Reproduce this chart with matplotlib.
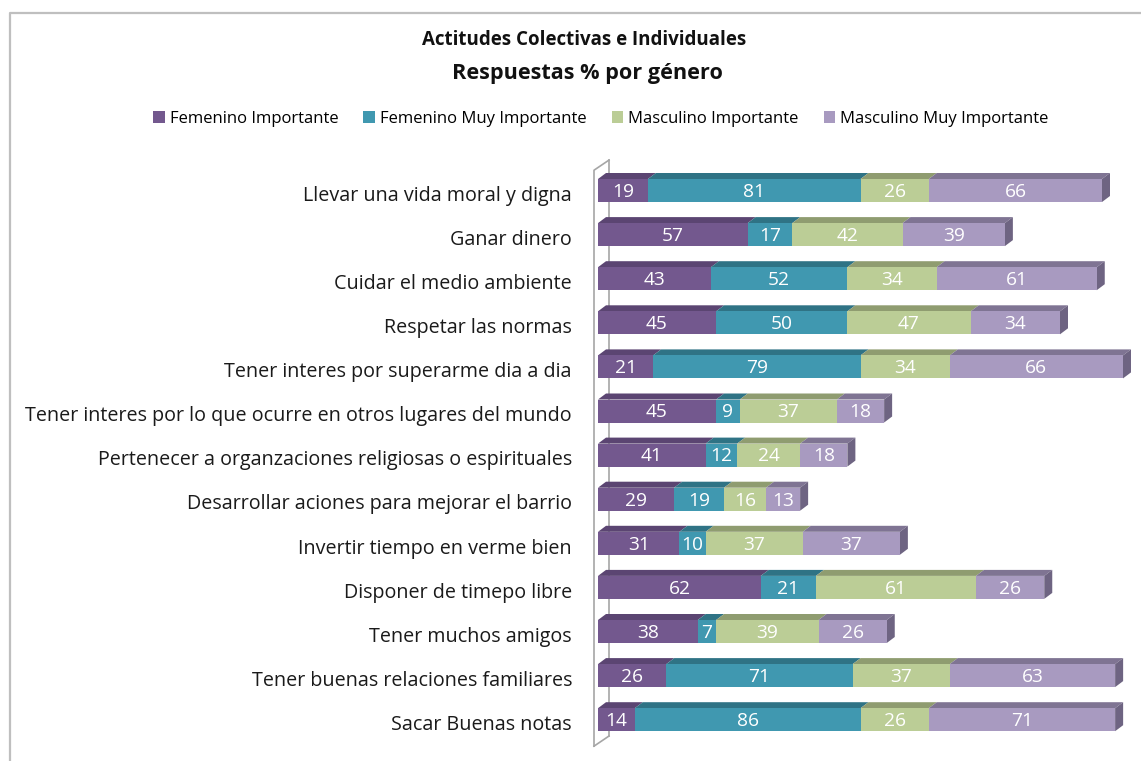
import matplotlib.pyplot as plt
from matplotlib.patches import Polygon, Rectangle, Patch
from matplotlib.lines import Line2D

plt.rcParams['font.family'] = ['Open Sans', 'DejaVu Sans']

# datos
categorias = [
    "Llevar una vida moral y digna",
    "Ganar dinero",
    "Cuidar el medio ambiente",
    "Respetar las normas",
    "Tener interes por superarme dia a dia",
    "Tener interes por lo que ocurre en otros lugares del mundo",
    "Pertenecer a organzaciones religiosas o espirituales",
    "Desarrollar aciones para mejorar el barrio",
    "Invertir tiempo en verme bien",
    "Disponer de timepo libre",
    "Tener muchos amigos",
    "Tener buenas relaciones familiares",
    "Sacar Buenas notas",
]
fem_imp = [19, 57, 43, 45, 21, 45, 41, 29, 31, 62, 38, 26, 14]
fem_muy = [81, 17, 52, 50, 79, 9, 12, 19, 10, 21, 7, 71, 86]
mas_imp = [26, 42, 34, 47, 34, 37, 24, 16, 37, 61, 39, 37, 26]
mas_muy = [66, 39, 61, 34, 66, 18, 18, 13, 37, 26, 26, 63, 71]

series = [fem_imp, fem_muy, mas_imp, mas_muy]
nombres = ["Femenino Importante", "Femenino Muy Importante",
           "Masculino Importante", "Masculino Muy Importante"]
col_frente = ["#73588e", "#4098b0", "#bbcd96", "#a89ac0"]
col_arriba = ["#5b4572", "#2f7385", "#8f9c70", "#7f7493"]
col_lado = "#6e6482"

W, H = 1141, 761
fig = plt.figure(figsize=(W / 100, H / 100), dpi=100)

# ejes ubicados en pixeles: 0 en x=598, 2.625 px por unidad; filas cada 44.1 px
px_x = 2.625
px_y = 44.1
x0_px, y_top_px, y_fila0 = 598, 150, 190.5
ax = fig.add_axes([x0_px / W, 0, (W - x0_px) / W, (H - y_top_px) / H])
ax.set_xlim(0, (W - x0_px) / px_x)
ax.set_ylim((H - y_fila0) / px_y, -(y_fila0 - y_top_px) / px_y)
ax.axis("off")

h = 23 / px_y        # alto cara frontal
dx = 8 / px_x        # profundidad 3D
dy = 6 / px_y

# pared lateral
pared = dict(color="#a6a6a6", lw=1.2, clip_on=False)
xf, xb = -4 / px_x, 11 / px_x
yt, yb = -0.46, 12.6
ax.add_line(Line2D([xb, xb], [yt - 0.23, yb - 0.23], zorder=0, **pared))
ax.add_line(Line2D([xf, xf, xb], [yb, yt, yt - 0.23], zorder=0, **pared))
ax.add_line(Line2D([xf, xb], [yb, yb - 0.23], zorder=0, **pared))

for i in range(len(categorias)):
    izq = 0
    arriba = i - h / 2
    for k, vals in enumerate(series):
        v = vals[i]
        der = izq + v
        ax.add_patch(Polygon([(izq, arriba), (der, arriba), (der + dx, arriba - dy),
                              (izq + dx, arriba - dy)], closed=True,
                             facecolor=col_arriba[k], edgecolor="none", zorder=2, clip_on=False))
        ax.add_patch(Rectangle((izq, arriba), v, h, facecolor=col_frente[k],
                               edgecolor="none", zorder=3, clip_on=False))
        ax.text(izq + v / 2, i + 0.03, str(v), color="white", fontsize=13.8,
                ha="center", va="center", zorder=4)
        izq = der
    ax.add_patch(Polygon([(izq, arriba), (izq + dx, arriba - dy), (izq + dx, arriba + h - dy),
                          (izq, arriba + h)], closed=True, facecolor=col_lado,
                         edgecolor="none", zorder=2, clip_on=False))
    ax.text(-26 / px_x, i + 0.12, categorias[i], ha="right", va="center",
            fontsize=14.2, color="#1a1a1a")

# titulos
fig.text(584 / W, 1 - 40 / H, "Actitudes Colectivas e Individuales", ha="center",
         va="center", fontsize=13.5, fontweight="bold", color="#111111")
fig.text(587 / W, 1 - 73 / H, "Respuestas % por género", ha="center",
         va="center", fontsize=15.6, fontweight="bold", color="#111111")

# leyenda
manejadores = [Patch(facecolor=c, edgecolor="none") for c in col_frente]
fig.legend(manejadores, nombres, loc="center", bbox_to_anchor=(601 / W, 1 - 119 / H),
           ncol=4, frameon=False, fontsize=12, handlelength=0.7, handleheight=0.7,
           handletextpad=0.3, columnspacing=1.5)

# borde del grafico
borde = dict(color="#bfbfbf", lw=1.6)
fig.add_artist(Line2D([9.5 / W, 9.5 / W, 1], [0, 1 - 12.5 / H, 1 - 12.5 / H], **borde))

fig.savefig("out.png", dpi=100)
